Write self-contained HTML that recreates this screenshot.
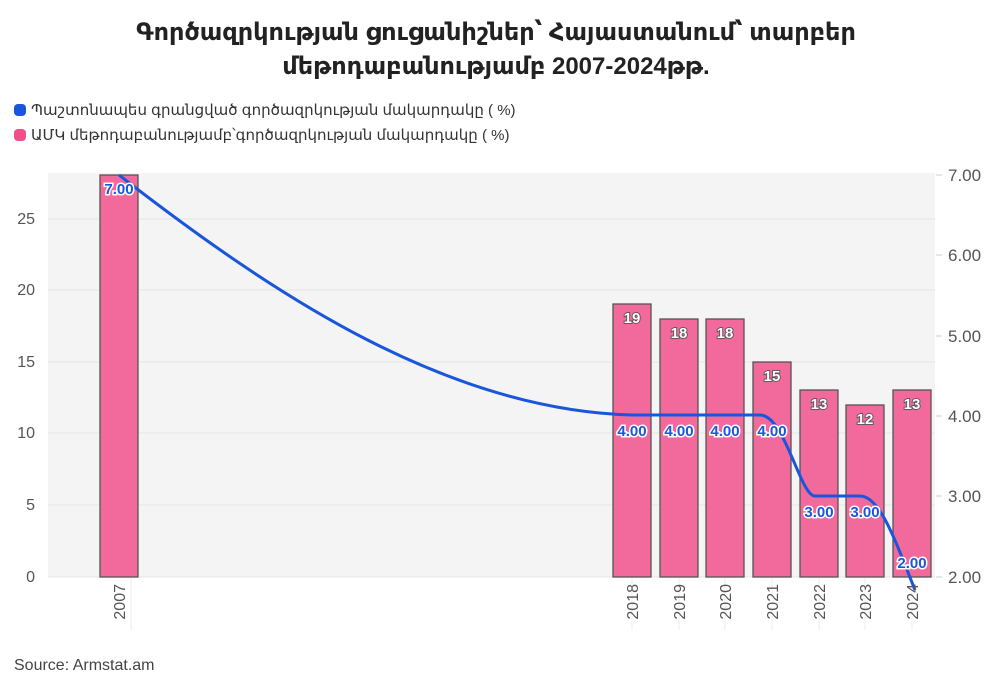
<!DOCTYPE html>
<html><head><meta charset="utf-8"><style>
body{margin:0;background:#fff;font-family:"Liberation Sans","DejaVu Sans",sans-serif;}
</style></head><body>
<svg width="993" height="691" xmlns="http://www.w3.org/2000/svg" font-family="Liberation Sans, DejaVu Sans, sans-serif">
<rect width="993" height="691" fill="#fff"/>
<text x="496" y="40" text-anchor="middle" font-size="24" font-weight="bold" fill="#222">Գործազրկության ցուցանիշներ՝ Հայաստանում՝ տարբեր</text>
<text x="496" y="74" text-anchor="middle" font-size="24" font-weight="bold" fill="#222">մեթոդաբանությամբ 2007-2024թթ.</text>
<rect x="14" y="104" width="12" height="12" rx="4" fill="#1a56db"/>
<text x="31" y="115" font-size="15" fill="#333">Պաշտոնապես գրանցված գործազրկության մակարդակը ( %)</text>
<rect x="14" y="129" width="12" height="12" rx="4" fill="#f0508a"/>
<text x="31" y="140" font-size="15" fill="#333">ԱՄԿ մեթոդաբանությամբ՝գործազրկության մակարդակը ( %)</text>
<rect x="48" y="173" width="887" height="404" fill="#f4f4f4"/>
<g stroke="#e4e4e4" stroke-width="1">
<line x1="48" x2="935" y1="505" y2="505"/><line x1="48" x2="935" y1="433" y2="433"/>
<line x1="48" x2="935" y1="362" y2="362"/><line x1="48" x2="935" y1="290" y2="290"/>
<line x1="48" x2="935" y1="219" y2="219"/>
<line x1="48" x2="935" y1="577" y2="577"/>
</g>
<g stroke="#eee" stroke-width="1">
<line x1="131" x2="131" y1="577" y2="630"/><line x1="632" x2="632" y1="577" y2="630"/>
<line x1="679" x2="679" y1="577" y2="630"/><line x1="725" x2="725" y1="577" y2="630"/>
<line x1="772" x2="772" y1="577" y2="630"/><line x1="819" x2="819" y1="577" y2="630"/>
<line x1="865" x2="865" y1="577" y2="630"/><line x1="912" x2="912" y1="577" y2="630"/>
</g>
<g fill="#f2699b" stroke="#555" stroke-width="1.3">
<rect x="100" y="175" width="38" height="402"/>
<rect x="613" y="304" width="38" height="273"/>
<rect x="660" y="319" width="38" height="258"/>
<rect x="706" y="319" width="38" height="258"/>
<rect x="753" y="362" width="38" height="215"/>
<rect x="800" y="390" width="38" height="187"/>
<rect x="846" y="405" width="38" height="172"/>
<rect x="893" y="390" width="38" height="187"/>
</g>
<g font-size="15" font-weight="bold" fill="#fff" stroke="#555" stroke-width="1.8" paint-order="stroke" text-anchor="middle">
<text x="632" y="323">19</text><text x="679" y="338">18</text><text x="725" y="338">18</text>
<text x="772" y="381">15</text><text x="819" y="409">13</text><text x="865" y="424">12</text><text x="912" y="409">13</text>
</g>
<path d="M119,175 C280,300 450,410 632,415 L760,415 C785,415 800,496 815,496 L860,496 C880,496 895,540 915,590" fill="none" stroke="#1a56db" stroke-width="3"/>
<g font-size="15" font-weight="bold" fill="#1a56db" stroke="#fff" stroke-width="3" paint-order="stroke" text-anchor="middle">
<text x="119" y="194">7.00</text>
<text x="632" y="436">4.00</text><text x="679" y="436">4.00</text><text x="725" y="436">4.00</text><text x="772" y="436">4.00</text>
<text x="819" y="517">3.00</text><text x="865" y="517">3.00</text><text x="912" y="568">2.00</text>
</g>
<g font-size="16" fill="#555" text-anchor="end">
<text x="35" y="582">0</text><text x="35" y="510">5</text><text x="35" y="438">10</text>
<text x="35" y="367">15</text><text x="35" y="295">20</text><text x="35" y="224">25</text>
</g>
<g font-size="17" fill="#555">
<text x="948" y="583">2.00</text><text x="948" y="502">3.00</text><text x="948" y="422">4.00</text>
<text x="948" y="342">5.00</text><text x="948" y="261">6.00</text><text x="948" y="181">7.00</text>
</g>
<g stroke="#ccc"><line x1="936" x2="942" y1="577" y2="577"/><line x1="936" x2="942" y1="496" y2="496"/><line x1="936" x2="942" y1="416" y2="416"/><line x1="936" x2="942" y1="336" y2="336"/><line x1="936" x2="942" y1="255" y2="255"/><line x1="936" x2="942" y1="175" y2="175"/></g>
<g font-size="16" fill="#555" text-anchor="end">
<text transform="translate(125,584) rotate(-90)">2007</text>
<text transform="translate(638,584) rotate(-90)">2018</text>
<text transform="translate(685,584) rotate(-90)">2019</text>
<text transform="translate(731,584) rotate(-90)">2020</text>
<text transform="translate(778,584) rotate(-90)">2021</text>
<text transform="translate(825,584) rotate(-90)">2022</text>
<text transform="translate(871,584) rotate(-90)">2023</text>
<text transform="translate(918,584) rotate(-90)">2024</text>
</g>
<text x="14" y="670" font-size="16" fill="#444">Source: Armstat.am</text>
</svg>
</body></html>
